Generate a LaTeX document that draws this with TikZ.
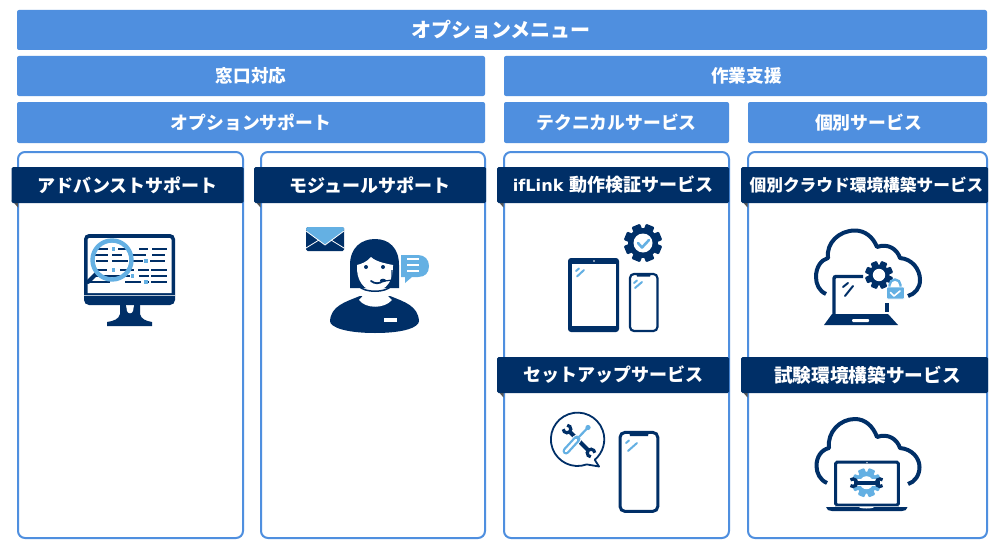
\documentclass[tikz,border=0pt]{standalone}
\usepackage{fontspec}
\newfontfamily\jp{Noto Sans CJK JP}
\newfontfamily\lat{DejaVu Sans}
\definecolor{barblue}{HTML}{4F8FDF}
\definecolor{navy}{HTML}{002F67}
\definecolor{sky}{HTML}{64B0E3}
\definecolor{fold}{HTML}{555555}
\tikzset{
 bar/.style={fill=barblue,rounded corners=2pt,text=white,inner sep=0pt,outer sep=0pt,font=\jp\bfseries\fontsize{17.8}{20}\selectfont},
 panel/.style={draw=barblue,line width=2pt,fill=white,rounded corners=7pt,inner sep=0pt,outer sep=0pt},
 banner/.style={fill=navy,text=white,rounded corners=1.5pt,inner sep=0pt,outer sep=0pt,font=\jp\bfseries\fontsize{18}{20}\selectfont},
 navyline/.style={draw=navy,line width=#1,line cap=round,line join=round},
 skyline/.style={draw=sky,line width=#1,line cap=round,line join=round},
}
% centre x, centre y, outer radius, body radius, hole radius, colour, hole colour
\newcommand{\cog}[7]{%
 \fill[#6] (#1,#2) circle (#4);
 \foreach \a in {0,45,...,315}{
  \fill[#6,shift={(#1,#2)},rotate=\a+22.5,rounded corners=1pt] (-#3*0.24,0) rectangle (#3*0.24,#3);
 }
 \fill[#7] (#1,#2) circle (#5);
}
\newcommand{\jaw}[4]{%
 \draw[#4,line width=3.2pt,line cap=butt] (#1,#2) ++(#3+48:3.8) arc[start angle=#3+48,delta angle=264,radius=3.8];
}
\begin{document}
\begin{tikzpicture}[x=1pt,y=-1pt]
\useasboundingbox (0,0) rectangle (1000,551);
\fill[white] (0,0) rectangle (1000,551);
% header bars
\node[bar,minimum width=970pt,minimum height=40pt,font=\jp\bfseries\fontsize{20}{22}\selectfont] (menu) at (502,30) {\hspace{-2pt}オプションメニュー};
\node[bar,minimum width=468pt,minimum height=40pt,font=\jp\bfseries\fontsize{17.6}{20}\selectfont] (madoguchi) at (251,76) {窓口対応};
\node[bar,minimum width=483pt,minimum height=40pt,font=\jp\bfseries\fontsize{17.6}{20}\selectfont] (sagyo) at (745.5,76) {\hspace{2pt}作業支援};
\node[bar,minimum width=468pt,minimum height=41pt] (optsup) at (251,122.5) {オプションサポート};
\node[bar,minimum width=225pt,minimum height=41pt] (tech) at (616.5,122.5) {テクニカルサービス};
\node[bar,minimum width=239pt,minimum height=41pt] (indiv) at (867.5,122.5) {\hspace{2pt}個別サービス};
% panels
\node[panel,minimum width=225pt,minimum height=386pt] (p1) at (130.5,345) {};
\node[panel,minimum width=224pt,minimum height=386pt] (p2) at (373,345) {};
\node[panel,minimum width=225pt,minimum height=386pt] (p3) at (616.5,345) {};
\node[panel,minimum width=239pt,minimum height=386pt] (p4) at (867.5,345) {};
% folds
\foreach \xa/\ya in {11.5/202,254/202,497/202,741/202,497/392,741/392}{
 \fill[fold] (\xa,\ya-2) -- (\xa+6.5,\ya-2) -- (\xa+6.5,\ya+5.5) -- cycle;
}
% banners
\node[banner,minimum width=232pt,minimum height=36pt] (b1) at (127.5,185) {アドバンストサポート};
\node[banner,minimum width=232pt,minimum height=36pt] (b2) at (370,185) {モジュールサポート};
\node[banner,minimum width=232pt,minimum height=36pt] (b3) at (613,185) {{\lat\bfseries\fontsize{16.2}{20}\selectfont ifLink }動作検証サービス};
\node[banner,minimum width=247pt,minimum height=36pt,font=\jp\bfseries\fontsize{16.7}{20}\selectfont] (b4) at (864.5,185) {\hspace{4pt}個別クラウド環境構築サービス};
\node[banner,minimum width=232pt,minimum height=36pt] (b5) at (613,375) {セットアップサービス};
\node[banner,minimum width=247pt,minimum height=36pt,font=\jp\bfseries\fontsize{18.7}{20}\selectfont] (b6) at (864.5,375) {\hspace{6pt}試験環境構築サービス};

% --- monitor icon
\fill[navy] (120,305) -- (140,305) -- (140,314) .. controls (141,319) and (146,321) .. (152,322) -- (152,326) -- (107,326) -- (107,322) .. controls (114,321) and (119,319) .. (120,314) -- cycle;
\fill[white] (126,305) -- (134,305) -- (133,311) .. controls (132,314) and (128,314) .. (127,311) -- cycle;
\fill[navy,rounded corners=5pt] (84,234) rectangle (175,305);
\fill[white] (87.5,238) [rounded corners=2pt] -- (171.5,238) [sharp corners] -- (171.5,293) -- (87.5,293) [rounded corners=2pt] -- cycle;
\draw[white!70!navy,line width=0.5pt] (84,295) -- (175,295);
\foreach \ya/\xa/\xb/\xc/\xd/\xe/\xf/\xg/\xh in {
 249/96/108/118/127/139/148/152/167,
 255/95/108/112/122/130/146/152/165,
 261/96/108/112/128/131/143/150/165,
 270/97/107/120/134/138/149/151/167,
 276/96/120/122/130/139/149/151/167,
 282/90/110/125/141/148/149/151/167}{
 \draw[navy,line width=1.5pt] (\xa,\ya) -- (\xb,\ya) (\xc,\ya) -- (\xd,\ya) (\xe,\ya) -- (\xf,\ya) (\xg,\ya) -- (\xh,\ya);
}
\foreach \xa/\ya in {113.5/249,146/261,113.5/270,132.5/276,146/282}{
 \fill[sky] (\xa-1.8,\ya-1.8) rectangle (\xa+1.8,\ya+1.8);
}
\draw[navyline=4pt] (97,273) -- (88,282);
\draw[skyline=4.4pt] (112,260) circle (19.5);

% --- operator icon
\fill[navy] (330,321) .. controls (331,306) and (345,302) .. (360,296) -- (390,296) .. controls (405,302) and (418,306) .. (419,321) .. controls (419,327) and (405,333) .. (375,333) .. controls (345,333) and (330,327) .. (330,321) -- cycle;
\fill[white] (363,291) -- (387,291) .. controls (386,296) and (391,299) .. (392,300) .. controls (384,309) and (366,309) .. (359,300) .. controls (361,298) and (364,296) .. (363,291) -- cycle;
\fill[navy] (350,288) -- (350,265) .. controls (350,248) and (361,239) .. (375,239) .. controls (389,239) and (399,248) .. (399,265) -- (399,288) -- cycle;
\fill[white] (357,265) .. controls (361,264) and (367,262) .. (371,257) .. controls (376,262) and (388,264) .. (393,265) .. controls (394,280) and (386,291) .. (375,291) .. controls (364,291) and (356,280) .. (357,265) -- cycle;
\draw[navy,line width=1.5pt] (359,286) .. controls (364,293) and (386,293) .. (391,286);
\fill[navy] (366,267) circle (2) (383,267) circle (2);
\draw[navyline=1.8pt] (371,281) .. controls (375,284) and (379,284) .. (383,281);
\fill[navy] (383,280.5) ellipse (3 and 1.8);
\draw[navy,line width=1.2pt] (392,270) -- (392,280) -- (385,281);
% envelope
\fill[navy,rounded corners=1.5pt] (306,227) rectangle (344,251);
\fill[sky,rounded corners=1.5pt] (306,227) -- (344,227) -- (344,231) -- (325,245) -- (306,231) -- cycle;
\draw[white,line width=0.8pt] (306,231) -- (325,245) -- (344,231) (306,248) -- (319,240) (344,248) -- (331,240);
% bubble
\fill[sky] (401,255) -- (418,255) .. controls (425,255) and (429,260) .. (429,266) .. controls (429,273) and (425,277) .. (418,277) -- (412,277) -- (405,283) -- (405,277) -- (401,277) -- cycle;
\draw[white,line width=1.6pt] (407,259) -- (419,259) (407,265) -- (419,265) (407,271) -- (419,271);
\fill[white] (384,318) rectangle (397,322);

% --- tablet + phone + gear
\fill[navy,rounded corners=3pt] (568,258) rectangle (619,332);
\fill[white] (572,264) rectangle (616,326);
\fill[white] (594,261) circle (0.8);
\draw[skyline=2pt] (576,271) -- (579,268.5) (577,276.5) -- (584,270);
\draw[navy,line width=2.2pt,rounded corners=4pt,fill=white] (630,274) rectangle (657.4,331);
\fill[navy] (636,273.5) -- (651,273.5) -- (650,276.5) -- (637,276.5) -- cycle;
\draw[skyline=2pt] (634,283) -- (637,280.5) (635,288) -- (642,282);
\cog{643}{243}{19}{15}{9.5}{navy}{white}
\draw[sky,line width=2.6pt,line cap=round,line join=round] (638,243) -- (642,247.5) -- (649,240);

% --- cloud laptop 1
\draw[navyline=4pt,line cap=butt] (826,294) .. controls (819,291) and (816,284) .. (816,277) .. controls (816,267) and (821,260) .. (828,258) .. controls (826,243) and (839,230.5) .. (855,230.5) .. controls (865,230.5) and (873,237) .. (877,247) .. controls (888,243) and (897,249) .. (900,258) .. controls (912,259) and (920,269) .. (920,280) .. controls (920,288) and (915,294) .. (908,296);
\draw[navy,line width=3.4pt,rounded corners=2pt] (863,276.5) -- (834,276.5) -- (834,315);
\draw[navy,line width=3.4pt] (887,303) -- (887,312);
\draw[navyline=2pt] (843,287) -- (848,283) (845,296) -- (853,286);
\fill[navy] (832,314) -- (888,314) -- (898,325) -- (824,325) -- cycle;
\fill[white,rounded corners=1pt] (852,319) rectangle (869,322);
\cog{879}{275}{14}{10.5}{6.2}{navy}{white}
\draw[sky,line width=2.4pt] (889.5,289) -- (889.5,285) arc[start angle=180,end angle=360,radius=5.5] -- (900.5,289);
\fill[sky,rounded corners=1pt,draw=white,line width=0.8pt] (886.5,287) rectangle (904.5,299);
\draw[white,line width=1.6pt,line cap=round,line join=round] (890.5,292.5) -- (894,296) -- (900,291);

% --- setup
\draw[navy,line width=1.8pt,line join=round,fill=white] (586.7,464.4) arc[start angle=70,end angle=410,radius=26.7] -- (599,466.5) -- cycle;
\draw[navy,line width=4pt] (569,431) -- (589,451);
\jaw{567}{429}{225}{navy}
\jaw{591}{453}{45}{navy}
\draw[white,line width=9pt,line cap=round] (566,451) -- (577,439);
\draw[sky,line width=7pt,line cap=round] (566,451) -- (577,439);
\draw[white,line width=2.4pt,line cap=round] (566,451) -- (576,440);
\draw[white,line width=3.6pt] (579,437) -- (587,429);
\draw[sky,line width=2.2pt] (577,439) -- (587,428.5);
\fill[sky] (588,427.5) circle (2.6);
% setup phone
\draw[navy,line width=3pt,rounded corners=5pt,fill=white] (620,432.4) rectangle (657.8,511.4);
\fill[navy] (629,431.5) -- (649,431.5) -- (648,436) -- (630,436) -- cycle;
\draw[skyline=2pt] (626,443) -- (629,440.5) (628,451) -- (637,443);

% --- cloud laptop 2
\draw[navyline=4pt,line cap=butt] (827,483) .. controls (820,480) and (816.5,473) .. (816.5,466) .. controls (816.5,457) and (821,450) .. (829,448) .. controls (827,432) and (840,419) .. (855,419) .. controls (865,419) and (873,426) .. (877,437) .. controls (888,433) and (897,439) .. (900,448) .. controls (912,449) and (919.5,458) .. (919.5,467) .. controls (919.5,475) and (915,482) .. (908,484);
\draw[navy,line width=3pt,rounded corners=1.5pt,fill=white] (835.6,462.2) rectangle (898.4,505);
\fill[white] (867,462.6) circle (0.7);
\fill[navy] (826,507) -- (907.5,507) .. controls (907,510) and (905,511) .. (902,511) -- (832,511) .. controls (829,511) and (826.5,510) .. (826,507) -- cycle;
\fill[white!70!navy] (835,505.7) rectangle (899,507);
\fill[white] (859,507) -- (874,507) .. controls (873,509) and (860,509) .. (859,507) -- cycle;
\cog{866.5}{482.7}{14.5}{11}{6.5}{sky}{white}
\draw[white,line width=6.5pt] (854,482.7) -- (879.5,482.7);
\draw[navy,line width=3.6pt] (854,482.7) -- (879.5,482.7);
\jaw{853}{482.7}{180}{navy}
\jaw{880}{482.7}{0}{navy}
\end{tikzpicture}
\end{document}
